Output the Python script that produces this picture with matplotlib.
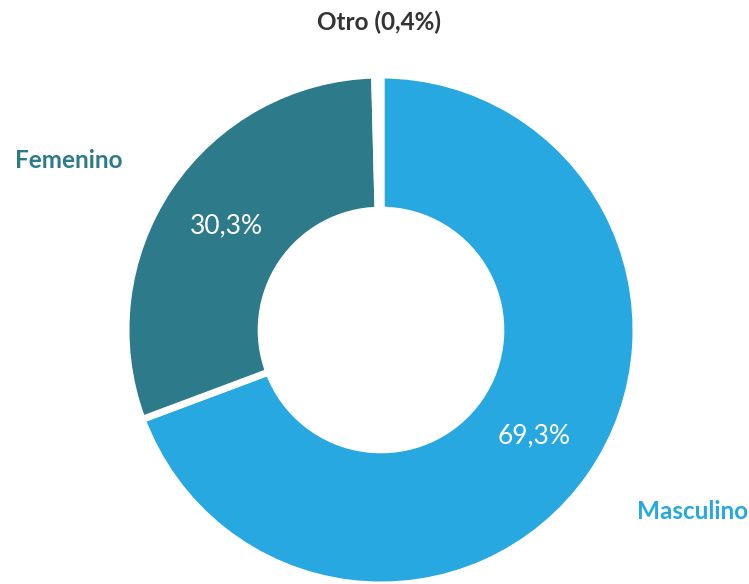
import matplotlib
matplotlib.use("Agg")
import matplotlib.pyplot as plt

# data
categories = ["Masculino", "Femenino", "Otro"]
shares = [69.3, 30.3, 0.4]
colors = ["#27A8E0", "#2D7A8B", "#FFFFFF"]
label_colors = ["#27A8E0", "#2D7A8B", "#333333"]

plt.rcParams["font.family"] = ["Lato", "DejaVu Sans"]

W, H, DPI = 749, 584, 100
cx, cy, r_px = 381, 330, 255  # pie centre / radius in pixels

fig = plt.figure(figsize=(W / DPI, H / DPI), dpi=DPI)
ax = fig.add_axes([0, 0, 1, 1])

wedges, _, autotexts = ax.pie(
    shares, colors=colors, startangle=90, counterclock=False,
    radius=1.0, autopct=lambda p: f"{p:.1f}%".replace(".", ",") if p > 5 else "",
    pctdistance=0.73,
    wedgeprops=dict(width=0.53, edgecolor="white", linewidth=5),
    textprops=dict(color="white", fontsize=19),
)

# outer category labels
label_pos = {"Masculino": (1.22, -0.71), "Femenino": (-1.225, 0.665), "Otro": (-0.008, 1.205)}
for name, val, col in zip(categories, shares, label_colors):
    txt = name if name != "Otro" else f"{name} ({val:.1f}%)".replace(".", ",")
    x, y = label_pos[name]
    ax.text(x, y, txt, color=col, fontsize=17.5, fontweight="bold",
            ha="center", va="center")

ax.set_xlim(-cx / r_px, (W - cx) / r_px)
ax.set_ylim(-(H - cy) / r_px, cy / r_px)
ax.set_aspect("auto")
ax.axis("off")

fig.savefig("out.png", dpi=DPI, facecolor="white")
